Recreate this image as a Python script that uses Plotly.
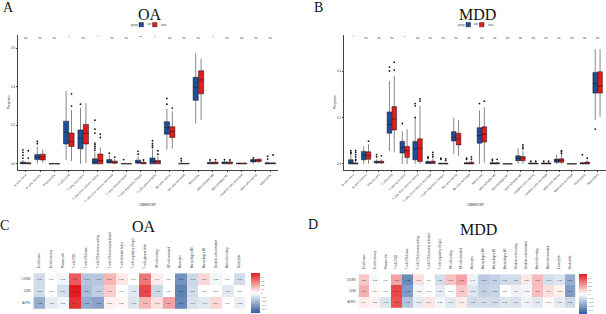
import plotly.graph_objects as go

W, H = 606, 314

# ---------------- data ----------------
oa_cells = ["B cells naive", "B cells memory", "Plasma cells", "T cells CD8", "T cells CD4 naive",
            "T cells CD4 memory resting", "T cells CD4 memory activated", "T cells follicular helper",
            "T cells regulatory (Tregs)", "T cells gamma delta", "NK cells resting", "NK cells activated",
            "Monocytes", "Macrophages M0", "Macrophages M1", "Dendritic cells activated",
            "Mast cells resting", "Neutrophils"]
mdd_cells = ["B cells naive", "B cells memory", "Plasma cells", "T cells CD8", "T cells CD4 naive",
             "T cells CD4 memory resting", "T cells CD4 memory activated", "T cells regulatory (Tregs)",
             "NK cells resting", "NK cells activated", "Monocytes", "Macrophages M0", "Macrophages M1",
             "Macrophages M2", "Dendritic cells resting", "Dendritic cells activated", "Mast cells resting",
             "Mast cells activated", "Eosinophils", "Neutrophils"]
groups = ["con", "treat"]

# OA box statistics: [lower whisker, q1, median, q3, upper whisker]
oa_con_stats = [[0, 0, 0.003, 0.009, 0.02], [0, 0.022, 0.034, 0.048, 0.09], [0, 0, 0, 0.002, 0.004],
                [0.02, 0.103, 0.164, 0.222, 0.38], [0, 0.078, 0.133, 0.176, 0.29], [0, 0, 0.01, 0.026, 0.06],
                [0, 0.005, 0.014, 0.022, 0.045], [0, 0, 0, 0.002, 0.004], [0, 0.003, 0.01, 0.019, 0.04],
                [0, 0, 0.013, 0.031, 0.075], [0.073, 0.154, 0.188, 0.219, 0.287], [0, 0, 0.001, 0.003, 0.006],
                [0.21, 0.33, 0.398, 0.45, 0.574], [0, 0, 0.003, 0.008, 0.015], [0, 0, 0.004, 0.01, 0.018],
                [0, 0, 0.001, 0.004, 0.008], [0, 0.01, 0.015, 0.022, 0.028], [0, 0, 0.002, 0.006, 0.012]]
oa_treat_stats = [[0, 0, 0.002, 0.006, 0.012], [0.005, 0.02, 0.036, 0.05, 0.075], [0, 0, 0, 0.002, 0.004],
                  [0.015, 0.09, 0.116, 0.16, 0.28], [0.005, 0.103, 0.159, 0.205, 0.316], [0, 0, 0.017, 0.051, 0.086],
                  [0, 0.003, 0.008, 0.014, 0.025], [0, 0, 0, 0.001, 0.002], [0, 0, 0.004, 0.008, 0.014],
                  [0, 0, 0.01, 0.017, 0.04], [0.079, 0.137, 0.168, 0.193, 0.273], [0, 0, 0.001, 0.002, 0.004],
                  [0.227, 0.364, 0.436, 0.484, 0.547], [0, 0, 0.003, 0.009, 0.016], [0, 0, 0.004, 0.01, 0.016],
                  [0, 0, 0.001, 0.004, 0.008], [0.004, 0.012, 0.018, 0.024, 0.03], [0, 0, 0.002, 0.005, 0.01]]
oa_con_out = [[0.03, 0.045, 0.06, 0.073], [0.105, 0.116], [], [], [0.31],
              [0.07, 0.08, 0.09, 0.1, 0.108, 0.16, 0.18, 0.227], [0.055], [0.022], [0.05, 0.065],
              [0.085, 0.095, 0.105, 0.12], [0.31, 0.34], [0.015, 0.027], [], [0.02], [0.022], [], [0.031],
              [0.025, 0.04]]
oa_treat_out = [[0.03, 0.068], [], [], [0.30, 0.364], [], [0.137, 0.154], [0.035], [], [0.02], [0.05, 0.068],
                [0.29], [], [], [0.022], [0.02], [], [], [0.046]]
oa_sig = ["ns", "ns", "ns", "*", "ns", "*", "ns", "ns", "***", "*", "ns", "ns", "ns", "*", "ns", "ns", "ns", "ns"]

# MDD box statistics
mdd_con_stats = [[0, 0, 0.005, 0.018, 0.04], [0, 0.018, 0.037, 0.054, 0.077], [0, 0.004, 0.008, 0.012, 0.02],
                 [0.055, 0.132, 0.17, 0.224, 0.357], [0, 0.047, 0.071, 0.097, 0.142], [0, 0.018, 0.065, 0.097, 0.196],
                 [0, 0.002, 0.005, 0.01, 0.018], [0, 0, 0.001, 0.003, 0.006], [0.043, 0.099, 0.114, 0.139, 0.2],
                 [0, 0, 0.002, 0.005, 0.01], [0, 0.089, 0.122, 0.156, 0.231], [0, 0, 0.002, 0.005, 0.01],
                 [0, 0, 0, 0.001, 0.002], [0, 0.014, 0.024, 0.035, 0.068], [0, 0, 0.002, 0.004, 0.008],
                 [0, 0, 0.002, 0.004, 0.008], [0, 0.007, 0.015, 0.021, 0.04], [0, 0, 0, 0.001, 0.002],
                 [0, 0, 0.002, 0.005, 0.01], [0.189, 0.305, 0.345, 0.394, 0.494]]
mdd_treat_stats = [[0, 0, 0.001, 0.004, 0.01], [0, 0.02, 0.036, 0.052, 0.085], [0, 0.004, 0.008, 0.012, 0.02],
                   [0.05, 0.146, 0.193, 0.247, 0.38], [0, 0.028, 0.057, 0.075, 0.15], [0, 0.011, 0.068, 0.108, 0.25],
                   [0, 0.002, 0.006, 0.012, 0.022], [0, 0, 0.001, 0.003, 0.006], [0.033, 0.082, 0.108, 0.132, 0.19],
                   [0, 0, 0.003, 0.007, 0.014], [0.005, 0.094, 0.128, 0.16, 0.245], [0, 0, 0.002, 0.005, 0.01],
                   [0, 0, 0, 0.001, 0.002], [0, 0.014, 0.025, 0.032, 0.055], [0, 0, 0.002, 0.004, 0.008],
                   [0, 0, 0.002, 0.004, 0.008], [0, 0.007, 0.016, 0.022, 0.04], [0, 0, 0, 0.001, 0.002],
                   [0, 0, 0.003, 0.008, 0.015], [0.203, 0.305, 0.335, 0.397, 0.494]]
mdd_con_out = [[0.045, 0.05, 0.057], [], [0.03, 0.04], [0.40, 0.417], [0.174], [0.2, 0.25, 0.26], [0.025, 0.03],
               [0.02, 0.025], [], [0.02, 0.025], [0.26], [0.014, 0.02], [], [], [0.012], [0.012], [], [],
               [0.04], [0.15]]
mdd_treat_out = [[0.015, 0.02, 0.03, 0.04, 0.05, 0.057], [0.098], [0.035], [0.404, 0.438], [], [0.27, 0.28],
                 [0.03, 0.04, 0.05], [0.015, 0.022], [], [0.02, 0.03], [0.27], [0.02], [],
                 [0.065, 0.072, 0.082], [0.012], [0.012], [0.045, 0.052, 0.057], [], [0.025], []]
mdd_sig = ["*", "ns", "ns", "ns", "*"] + ["ns"] * 15

# correlation heatmaps
genes = ["CXCR4", "CD86", "ALPK1"]
oa_corr = [
    [-0.11, 0.00, -0.03, 0.36, -0.18, -0.17, 0.16, 0.05, 0.00, 0.30, 0.04, 0.00, -0.33, -0.12, 0.09, -0.03, 0.00, -0.11],
    [-0.11, 0.00, -0.10, 0.50, -0.20, -0.15, 0.11, 0.00, -0.07, 0.40, -0.12, 0.00, -0.38, -0.11, 0.00, 0.00, -0.07, 0.00],
    [-0.25, -0.06, -0.03, 0.45, -0.25, -0.28, 0.03, 0.02, -0.08, 0.16, 0.07, 0.20, -0.36, -0.09, -0.07, 0.09, 0.00, -0.05],
]
mdd_corr = [
    [0.12, -0.02, 0.00, 0.20, -0.35, 0.07, 0.00, -0.10, 0.13, 0.20, -0.04, -0.16, -0.14, -0.11, -0.11, 0.05, 0.15, -0.10, -0.08, -0.25],
    [0.17, 0.01, 0.00, 0.40, -0.30, -0.03, 0.00, -0.06, 0.00, 0.12, -0.08, -0.14, -0.13, 0.00, -0.04, -0.03, 0.14, 0.07, 0.03, -0.30],
    [0.04, 0.03, -0.08, 0.38, -0.18, -0.06, 0.06, -0.03, -0.07, 0.04, -0.11, -0.10, -0.11, -0.08, -0.09, -0.04, -0.07, 0.01, -0.06, -0.12],
]

# ---------------- style ----------------
BLUE = "#1F4E96"
RED = "#E41A1C"
SERIF = "Liberation Serif"
SANS = "Liberation Sans"
DODGE = 0.1875
BW = 0.36


def px(x):
    return x / W


def py(y):
    return 1 - y / H


fig = go.Figure()


def add_boxes(stats, outs, color, offset, xa, ya, name):
    n = len(stats)
    pos = [i + offset for i in range(n)]
    fig.add_trace(go.Box(
        x=pos,
        lowerfence=[s[0] for s in stats], q1=[s[1] for s in stats], median=[s[2] for s in stats],
        q3=[s[3] for s in stats], upperfence=[s[4] for s in stats],
        width=BW, fillcolor=color, line=dict(color="#111111", width=0.5), whiskerwidth=0,
        boxpoints=False, name=name, showlegend=False, xaxis=xa, yaxis=ya, hoverinfo="skip"))
    ox, oy = [], []
    for i, vals in enumerate(outs):
        for v in vals:
            ox.append(i + offset)
            oy.append(v)
    fig.add_trace(go.Scatter(x=ox, y=oy, mode="markers", marker=dict(color="#111111", size=1.8),
                             showlegend=False, xaxis=xa, yaxis=ya, hoverinfo="skip"))


add_boxes(oa_con_stats, oa_con_out, BLUE, -DODGE, "x", "y", groups[0])
add_boxes(oa_treat_stats, oa_treat_out, RED, DODGE, "x", "y", groups[1])
add_boxes(mdd_con_stats, mdd_con_out, BLUE, -DODGE, "x2", "y2", groups[0])
add_boxes(mdd_treat_stats, mdd_treat_out, RED, DODGE, "x2", "y2", groups[1])

fig.add_trace(go.Scatter(x=list(range(len(oa_sig))), y=[0.651] * len(oa_sig), mode="text", text=oa_sig,
                         textfont=dict(size=3, color="#333333", family=SANS), showlegend=False,
                         xaxis="x", yaxis="y", hoverinfo="skip"))
fig.add_trace(go.Scatter(x=list(range(len(mdd_sig))), y=[0.54] * len(mdd_sig), mode="text", text=mdd_sig,
                         textfont=dict(size=3, color="#333333", family=SANS), showlegend=False,
                         xaxis="x2", yaxis="y2", hoverinfo="skip"))

cscale = [[0, "#2C5A9E"], [0.5, "#FFFFFF"], [1, "#E31A1C"]]
cb_ticks = [-0.4, -0.3, -0.2, -0.1, 0, 0.1, 0.2, 0.3, 0.4]

fig.add_trace(go.Heatmap(z=oa_corr, x=oa_cells, y=genes, colorscale=cscale, zmin=-0.5, zmax=0.5,
                         texttemplate="%{z:.2f}", textfont=dict(size=2.2, color="#222222", family=SANS),
                         xaxis="x3", yaxis="y3", hoverinfo="skip",
                         colorbar=dict(x=px(250.7), xanchor="left", y=py(276.7), yanchor="top",
                                       thickness=8.5, thicknessmode="pixels", len=40, lenmode="pixels",
                                       outlinewidth=0, tickvals=cb_ticks,
                                       tickfont=dict(size=2.5, family=SANS), ticklen=1, xpad=0, ypad=0)))
fig.add_trace(go.Heatmap(z=mdd_corr, x=mdd_cells, y=genes, colorscale=cscale, zmin=-0.5, zmax=0.5,
                         texttemplate="%{z:.2f}", textfont=dict(size=2.2, color="#222222", family=SANS),
                         xaxis="x4", yaxis="y4", hoverinfo="skip",
                         colorbar=dict(x=px(579.3), xanchor="left", y=py(277.3), yanchor="top",
                                       thickness=7.5, thicknessmode="pixels", len=40, lenmode="pixels",
                                       outlinewidth=0, tickvals=cb_ticks,
                                       tickfont=dict(size=2.5, family=SANS), ticklen=1, xpad=0, ypad=0)))

axis_common = dict(showgrid=False, zeroline=False, showline=True, linecolor="#444444", linewidth=0.6,
                   ticks="outside", ticklen=1.5, tickwidth=0.5, tickcolor="#444444", automargin=False)
hm_x = dict(side="top", tickangle=-90, showgrid=False, zeroline=False, showline=False, ticks="",
            automargin=False, ticklabelstandoff=4, tickfont=dict(size=2.7, color="#333333"))
hm_y = dict(autorange="reversed", showgrid=False, zeroline=False, showline=False, ticks="",
            automargin=False, ticklabelstandoff=2, tickfont=dict(size=2.6, color="#333333"))

fig.update_layout(
    width=W, height=H, margin=dict(l=0, r=0, t=0, b=0),
    paper_bgcolor="white", plot_bgcolor="white", showlegend=False,
    font=dict(family=SANS, color="#333333"),
    xaxis=dict(domain=[px(18), px(278)], range=[-0.53, len(oa_cells) - 0.47], anchor="y",
               tickvals=list(range(len(oa_cells))), ticktext=oa_cells, tickangle=-45,
               tickfont=dict(size=2.9), **axis_common),
    yaxis=dict(domain=[py(172), py(35)], range=[-0.031, 0.672], anchor="x",
               tickvals=[0, 0.2, 0.4, 0.6], ticktext=["0.0", "0.2", "0.4", "0.6"],
               tickfont=dict(size=3), **axis_common),
    xaxis2=dict(domain=[px(344), 1], range=[-0.72, 19.65], anchor="y2",
                tickvals=list(range(len(mdd_cells))), ticktext=mdd_cells, tickangle=-45,
                tickfont=dict(size=2.9), **axis_common),
    yaxis2=dict(domain=[py(171.7), py(35)], range=[-0.024, 0.557], anchor="x2",
                tickvals=[0, 0.2, 0.4], ticktext=["0.0", "0.2", "0.4"],
                tickfont=dict(size=3), **axis_common),
    xaxis3=dict(domain=[px(33.4), px(245.2)], anchor="y3", **hm_x),
    yaxis3=dict(domain=[py(312.7), py(276.7)], anchor="x3", **hm_y),
    xaxis4=dict(domain=[px(358.6), px(575.4)], anchor="y4", **hm_x),
    yaxis4=dict(domain=[py(311.7), py(277.7)], anchor="x4", **hm_y),
)

ann = []


def text(x, y, t, size, family=SERIF, color="#111111", angle=0, xanchor="center"):
    ann.append(dict(x=px(x), y=py(y), xref="paper", yref="paper", text=t, showarrow=False,
                    font=dict(size=size, family=family, color=color), textangle=angle,
                    xanchor=xanchor, yanchor="middle"))


# panel letters and titles
text(8, 8, "A", 14)
text(318, 8, "B", 14)
text(5, 228, "C", 14)
text(313, 227, "D", 14)
text(150, 15, "OA", 16)
text(477, 15, "MDD", 16)
text(144, 229, "OA", 16)
text(478, 232, "MDD", 16)
# axis titles
text(8.3, 103, "Proportion", 3, SANS, "#333333", -90)
text(335, 103, "Proportion", 3, SANS, "#333333", -90)
text(148, 208, "CIBERSORT", 3, SANS, "#333333")
text(476, 208, "CIBERSORT", 3, SANS, "#333333")

shapes = []


def legend(x0, y0):
    text(x0, y0, "group", 2.6, SANS, "#333333", xanchor="left")
    shapes.append(dict(type="rect", xref="paper", yref="paper", x0=px(x0 + 10), x1=px(x0 + 14.5),
                       y0=py(y0 + 2.2), y1=py(y0 - 2.2), fillcolor=BLUE, line=dict(width=0.4, color="#111111")))
    text(x0 + 16, y0, groups[0], 2.6, SANS, "#333333", xanchor="left")
    shapes.append(dict(type="rect", xref="paper", yref="paper", x0=px(x0 + 23.5), x1=px(x0 + 28),
                       y0=py(y0 + 2.2), y1=py(y0 - 2.2), fillcolor=RED, line=dict(width=0.4, color="#111111")))
    text(x0 + 30, y0, groups[1], 2.6, SANS, "#333333", xanchor="left")


legend(129, 25)
legend(456, 25)

fig.update_layout(annotations=ann, shapes=shapes)
fig.write_html("out.html")
